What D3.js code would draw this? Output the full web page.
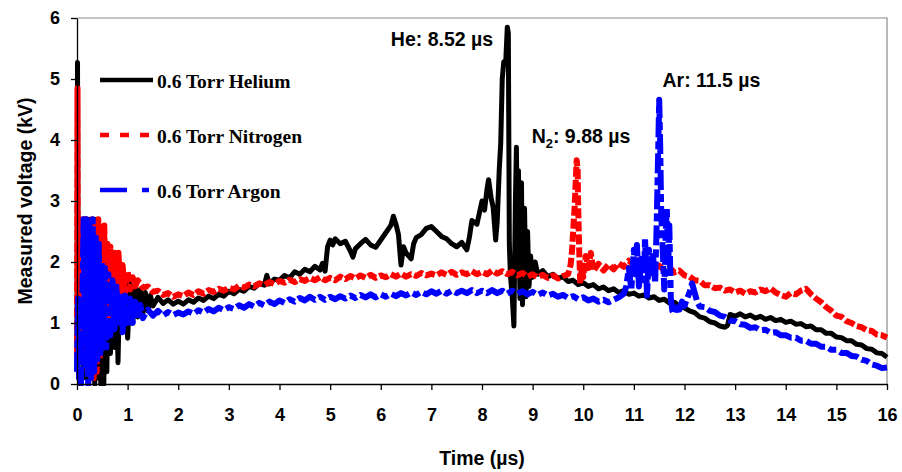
<!DOCTYPE html>
<html>
<head>
<meta charset="utf-8">
<script src="https://cdn.jsdelivr.net/npm/d3@7"></script>
<style>
  html, body { margin: 0; padding: 0; background: #fff; }
  svg { display: block; }
</style>
</head>
<body>
<svg id="chart" width="902" height="472"></svg>
<script>
// ---- DATA (time in µs, voltage in kV) ----
const helium = [[0,0.3],[0.01,5.27],[0.02,2.2],[0.04,2.7],[0.06,0.4],[0.08,2.7],[0.1,1.2],[0.12,0.2],[0.14,2.7],[0.17,0.1],[0.2,2.6],[0.23,0],[0.26,2.7],[0.29,0.2],[0.32,2.7],[0.35,0],[0.38,2.7],[0.41,0.1],[0.44,2.6],[0.47,0],[0.5,2.4],[0.53,0],[0.56,2.3],[0.59,0.2],[0.62,2.1],[0.66,0.5],[0.7,1.9],[0.74,0.6],[0.78,1.8],[0.81,0.35],[0.85,1.9],[0.9,0.9],[0.95,1.75],[1.0,0.75],[1.05,1.65],[1.1,1.0],[1.15,1.6],[1.2,1.1],[1.25,1.55],[1.3,1.15],[1.35,1.5],[1.4,1.2],[1.45,1.45],[1.5,1.28],[1.6,1.42],[1.7,1.32],[1.8,1.38],[1.9,1.31],[2.0,1.36],[2.1,1.31],[2.2,1.38],[2.3,1.34],[2.4,1.41],[2.5,1.37],[2.6,1.44],[2.7,1.4],[2.8,1.47],[2.9,1.44],[3.0,1.52],[3.1,1.48],[3.2,1.55],[3.3,1.52],[3.4,1.6],[3.5,1.57],[3.6,1.65],[3.7,1.62],[3.75,1.78],[3.8,1.64],[3.9,1.72],[4.0,1.7],[4.1,1.78],[4.2,1.74],[4.3,1.84],[4.4,1.8],[4.5,1.88],[4.6,1.84],[4.7,1.93],[4.8,1.87],[4.85,1.98],[4.9,1.85],[4.95,2.25],[5.0,2.36],[5.05,2.28],[5.1,2.38],[5.2,2.3],[5.3,2.34],[5.4,2.18],[5.45,2.08],[5.5,2.22],[5.6,2.3],[5.7,2.37],[5.8,2.28],[5.9,2.24],[6.0,2.36],[6.1,2.48],[6.2,2.6],[6.25,2.75],[6.3,2.62],[6.35,2.45],[6.4,1.95],[6.45,2.25],[6.5,2.15],[6.6,2.05],[6.65,2.3],[6.7,2.4],[6.8,2.45],[6.9,2.55],[7.0,2.58],[7.1,2.5],[7.2,2.42],[7.3,2.38],[7.4,2.3],[7.5,2.25],[7.6,2.32],[7.7,2.2],[7.75,2.4],[7.8,2.68],[7.9,2.62],[8.0,3.0],[8.05,2.85],[8.1,3.2],[8.13,3.35],[8.18,3.05],[8.22,2.9],[8.27,2.36],[8.3,2.65],[8.34,3.5],[8.37,3.95],[8.4,5.0],[8.43,5.28],[8.47,5.3],[8.5,5.85],[8.52,5.75],[8.53,4.0],[8.54,2.3],[8.56,1.8],[8.6,1.4],[8.63,0.95],[8.66,3.0],[8.68,3.88],[8.7,2.0],[8.72,3.5],[8.75,1.4],[8.78,3.3],[8.8,1.3],[8.84,2.88],[8.87,1.43],[8.9,2.5],[8.93,1.6],[8.96,2.1],[9.0,1.75],[9.05,2.0],[9.1,1.8],[9.2,1.86],[9.3,1.76],[9.4,1.8],[9.5,1.73],[9.6,1.76],[9.7,1.68],[9.8,1.7],[9.9,1.63],[10.0,1.66],[10.1,1.6],[10.2,1.63],[10.3,1.56],[10.4,1.59],[10.5,1.53],[10.6,1.56],[10.7,1.5],[10.8,1.53],[10.9,1.47],[11.0,1.49],[11.1,1.44],[11.2,1.46],[11.3,1.41],[11.4,1.43],[11.5,1.37],[11.6,1.39],[11.7,1.33],[11.8,1.34],[11.9,1.27],[12.0,1.25],[12.1,1.2],[12.2,1.17],[12.3,1.1],[12.4,1.08],[12.5,1.02],[12.6,1.0],[12.7,0.95],[12.8,0.93],[12.85,0.96],[12.9,1.14],[13.0,1.11],[13.1,1.15],[13.2,1.1],[13.3,1.13],[13.4,1.08],[13.5,1.11],[13.6,1.06],[13.7,1.09],[13.8,1.04],[13.9,1.06],[14.0,1.01],[14.1,1.03],[14.2,0.98],[14.3,0.99],[14.4,0.94],[14.5,0.95],[14.6,0.89],[14.7,0.89],[14.8,0.83],[14.9,0.83],[15.0,0.77],[15.1,0.76],[15.2,0.71],[15.3,0.71],[15.4,0.65],[15.5,0.64],[15.6,0.58],[15.7,0.57],[15.8,0.51],[15.9,0.5],[16.0,0.44]];

const nitrogen = [[0,0.45],[0.01,4.85],[0.015,1.5],[0.03,2.1],[0.05,1.2],[0.07,2.6],[0.09,0.5],[0.12,2.7],[0.15,0.9],[0.18,2.7],[0.21,0.2],[0.24,2.6],[0.27,0.3],[0.3,2.7],[0.33,0.1],[0.36,2.5],[0.39,0.2],[0.42,2.7],[0.45,0.4],[0.48,2.4],[0.51,0.6],[0.54,2.6],[0.57,0.9],[0.6,2.3],[0.63,1.1],[0.66,2.25],[0.7,1.2],[0.74,2.15],[0.78,1.3],[0.82,2.15],[0.86,1.4],[0.9,1.95],[0.95,1.5],[1.0,1.85],[1.05,1.55],[1.1,1.75],[1.15,1.6],[1.2,1.7],[1.3,1.58],[1.4,1.6],[1.5,1.51],[1.6,1.53],[1.7,1.46],[1.8,1.49],[1.9,1.43],[2.0,1.47],[2.1,1.44],[2.2,1.5],[2.3,1.46],[2.4,1.52],[2.5,1.48],[2.6,1.54],[2.7,1.51],[2.8,1.56],[2.9,1.53],[3.0,1.58],[3.1,1.55],[3.2,1.61],[3.3,1.58],[3.4,1.63],[3.5,1.6],[3.6,1.65],[3.7,1.62],[3.8,1.67],[3.9,1.64],[4.0,1.69],[4.1,1.66],[4.2,1.71],[4.3,1.67],[4.4,1.72],[4.5,1.69],[4.6,1.74],[4.7,1.7],[4.8,1.75],[4.9,1.7],[5.0,1.74],[5.1,1.7],[5.2,1.76],[5.3,1.72],[5.4,1.77],[5.5,1.73],[5.6,1.78],[5.7,1.74],[5.8,1.79],[5.9,1.74],[6.0,1.78],[6.1,1.75],[6.2,1.8],[6.3,1.76],[6.4,1.81],[6.5,1.76],[6.6,1.8],[6.7,1.77],[6.8,1.82],[6.9,1.78],[7.0,1.81],[7.1,1.78],[7.2,1.83],[7.3,1.79],[7.4,1.84],[7.5,1.79],[7.6,1.83],[7.7,1.8],[7.8,1.85],[7.9,1.8],[8.0,1.84],[8.1,1.8],[8.2,1.86],[8.3,1.81],[8.4,1.85],[8.5,1.8],[8.6,1.84],[8.7,1.78],[8.8,1.82],[8.9,1.76],[9.0,1.8],[9.1,1.75],[9.2,1.79],[9.3,1.74],[9.4,1.78],[9.5,1.73],[9.6,1.77],[9.7,1.8],[9.75,1.95],[9.78,2.2],[9.8,2.5],[9.83,2.9],[9.85,3.3],[9.87,3.67],[9.89,3.5],[9.9,2.9],[9.92,2.2],[9.94,1.65],[9.97,1.9],[10.0,1.75],[10.05,2.1],[10.1,1.9],[10.15,2.15],[10.2,1.85],[10.3,1.97],[10.4,1.86],[10.5,1.96],[10.6,1.88],[10.7,1.98],[10.8,1.92],[10.9,2.02],[11.0,1.95],[11.1,2.03],[11.2,1.94],[11.3,1.98],[11.4,1.9],[11.5,1.94],[11.6,1.86],[11.7,1.91],[11.8,1.83],[11.9,1.86],[12.0,1.78],[12.1,1.76],[12.2,1.7],[12.3,1.69],[12.4,1.62],[12.5,1.62],[12.6,1.57],[12.7,1.58],[12.8,1.53],[12.9,1.55],[13.0,1.5],[13.1,1.53],[13.2,1.48],[13.3,1.52],[13.4,1.5],[13.5,1.55],[13.6,1.52],[13.7,1.57],[13.8,1.5],[13.9,1.46],[14.0,1.43],[14.1,1.49],[14.2,1.47],[14.3,1.53],[14.4,1.56],[14.5,1.47],[14.6,1.4],[14.7,1.34],[14.8,1.26],[14.9,1.2],[15.0,1.12],[15.1,1.1],[15.2,1.03],[15.3,1.0],[15.4,0.95],[15.5,0.93],[15.6,0.88],[15.7,0.87],[15.8,0.81],[15.9,0.8],[16.0,0.76]];

const argon = [[0,0.2],[0.02,1.4],[0.04,0.1],[0.06,1.3],[0.08,0],[0.1,1.0],[0.13,2.7],[0.16,0.3],[0.19,2.7],[0.22,0],[0.25,2.6],[0.28,0.1],[0.31,2.7],[0.34,0.2],[0.37,2.4],[0.4,0.4],[0.43,2.3],[0.46,0.5],[0.49,2.0],[0.52,0.6],[0.55,1.9],[0.58,0.6],[0.62,1.8],[0.66,0.8],[0.7,1.7],[0.74,0.9],[0.78,1.6],[0.82,0.95],[0.86,1.5],[0.9,0.85],[0.95,1.45],[1.0,1.0],[1.05,1.4],[1.1,1.0],[1.15,1.35],[1.2,1.05],[1.25,1.3],[1.3,1.08],[1.4,1.22],[1.5,1.12],[1.6,1.2],[1.7,1.12],[1.8,1.18],[1.9,1.13],[2.0,1.17],[2.1,1.14],[2.2,1.19],[2.3,1.15],[2.4,1.21],[2.5,1.17],[2.6,1.23],[2.7,1.19],[2.8,1.25],[2.9,1.21],[3.0,1.26],[3.1,1.23],[3.2,1.29],[3.3,1.25],[3.4,1.31],[3.5,1.27],[3.6,1.33],[3.7,1.29],[3.8,1.35],[3.9,1.31],[4.0,1.37],[4.1,1.33],[4.2,1.39],[4.3,1.35],[4.4,1.41],[4.5,1.37],[4.6,1.43],[4.7,1.38],[4.8,1.43],[4.9,1.38],[5.0,1.43],[5.1,1.39],[5.2,1.44],[5.3,1.4],[5.4,1.45],[5.5,1.41],[5.6,1.46],[5.7,1.42],[5.8,1.47],[5.9,1.42],[6.0,1.47],[6.1,1.43],[6.2,1.48],[6.3,1.44],[6.4,1.49],[6.5,1.45],[6.6,1.5],[6.7,1.46],[6.8,1.51],[6.9,1.47],[7.0,1.52],[7.1,1.48],[7.2,1.53],[7.3,1.48],[7.4,1.53],[7.5,1.49],[7.6,1.53],[7.7,1.49],[7.8,1.54],[7.9,1.49],[8.0,1.53],[8.1,1.49],[8.2,1.54],[8.3,1.49],[8.4,1.53],[8.5,1.48],[8.6,1.53],[8.7,1.48],[8.8,1.52],[8.9,1.47],[9.0,1.51],[9.1,1.46],[9.2,1.5],[9.3,1.45],[9.4,1.48],[9.5,1.43],[9.6,1.46],[9.7,1.41],[9.8,1.44],[9.9,1.39],[10.0,1.42],[10.1,1.37],[10.2,1.4],[10.3,1.35],[10.4,1.38],[10.5,1.34],[10.6,1.38],[10.7,1.42],[10.8,1.48],[10.85,1.6],[10.9,1.9],[10.95,1.55],[11.0,2.2],[11.03,1.8],[11.06,2.28],[11.1,1.6],[11.15,2.05],[11.2,1.7],[11.22,2.4],[11.26,1.45],[11.3,2.2],[11.35,1.75],[11.38,2.1],[11.42,1.65],[11.45,2.6],[11.48,3.8],[11.5,4.66],[11.52,3.9],[11.54,2.8],[11.57,2.2],[11.6,1.55],[11.63,2.5],[11.65,2.9],[11.68,2.0],[11.7,2.6],[11.73,1.4],[11.76,1.2],[11.8,1.15],[11.85,1.3],[11.9,1.22],[11.95,1.35],[12.0,1.28],[12.05,1.4],[12.1,1.5],[12.15,1.65],[12.2,1.5],[12.25,1.35],[12.3,1.27],[12.4,1.26],[12.5,1.2],[12.6,1.18],[12.7,1.12],[12.8,1.1],[12.9,1.04],[13.0,1.03],[13.1,0.98],[13.2,0.97],[13.3,0.92],[13.4,0.93],[13.5,0.88],[13.6,0.89],[13.7,0.84],[13.8,0.85],[13.9,0.8],[14.0,0.8],[14.1,0.76],[14.2,0.76],[14.3,0.71],[14.4,0.71],[14.5,0.66],[14.6,0.66],[14.7,0.61],[14.8,0.61],[14.9,0.56],[15.0,0.56],[15.1,0.51],[15.2,0.51],[15.3,0.46],[15.4,0.45],[15.5,0.4],[15.6,0.38],[15.7,0.32],[15.8,0.3],[15.9,0.26],[16.0,0.27]];

const seriesNames = ["0.6 Torr Helium", "0.6 Torr Nitrogen", "0.6 Torr Argon"];
const xTickValues = [0,1,2,3,4,5,6,7,8,9,10,11,12,13,14,15,16];
const yTickValues = [0,1,2,3,4,5,6];
const xTitle = "Time (\u00b5s)";
const yTitle = "Measured voltage (kV)";
// peak annotations: [gas, subscript, text after, time, voltage]
const peakLabels = [
  ["He", "", ": 8.52 \u00b5s", 8.22, 5.54],
  ["N", "2", ": 9.88 \u00b5s", 10.93, 3.95],
  ["Ar", "", ": 11.5 \u00b5s", 13.5, 4.87]
];

// ---- CHART ----
const W = 902, H = 472;
const m = { top: 18, right: 15, bottom: 88, left: 77 };
const svg = d3.select("#chart");
const x = d3.scaleLinear().domain([0, 16]).range([m.left, W - m.right]);
const y = d3.scaleLinear().domain([0, 6]).range([H - m.bottom, m.top]);

const styles = [
  { color: "#000000", dash: null, width: 5 },
  { color: "#ff0000", dash: "10,3", width: 6 },
  { color: "#0000ff", dash: "20,4,8,4", width: 6 }
];
const legendDash = [null, "9,11", "27,15,7,15"];

// frame (top/right gray)
svg.append("path")
  .attr("d", `M${x(0)},${y(6)}H${x(16)}V${y(0)}`)
  .attr("fill", "none").attr("stroke", "#8c8c8c").attr("stroke-width", 1.2);

svg.append("clipPath").attr("id", "clip")
  .append("rect").attr("x", x(0) - 4).attr("y", y(6)).attr("width", x(16) - x(0) + 8).attr("height", y(0) - y(6) + 2);

const line = d3.line().x(d => x(d[0])).y(d => y(d[1]));
const g = svg.append("g").attr("clip-path", "url(#clip)");
[helium, nitrogen, argon].forEach((data, i) => {
  const p = g.append("path").datum(data)
    .attr("d", line)
    .attr("fill", "none")
    .attr("stroke", styles[i].color)
    .attr("stroke-width", styles[i].width)
    .attr("stroke-linejoin", "round");
  if (styles[i].dash) p.attr("stroke-dasharray", styles[i].dash);
});

// axes
const xAxis = svg.append("g").attr("transform", `translate(0,${y(0)})`)
  .call(d3.axisBottom(x).tickValues(xTickValues).tickSize(6).tickSizeOuter(0).tickPadding(18).tickFormat(d3.format("d")));
const yAxis = svg.append("g").attr("transform", `translate(${x(0)},0)`)
  .call(d3.axisLeft(y).tickValues(yTickValues).tickSize(6).tickSizeOuter(0).tickPadding(11).tickFormat(d3.format("d")));
[xAxis, yAxis].forEach(a => {
  a.select(".domain").attr("stroke", "#000").attr("stroke-width", 1.3);
  a.selectAll(".tick line").attr("stroke", "#000").attr("stroke-width", 1.3);
  a.selectAll(".tick text").attr("fill", "#000")
    .style("font-family", "Liberation Sans, Arial, sans-serif")
    .style("font-weight", "bold").style("font-size", "18px");
});

// axis titles
svg.append("text").attr("x", (x(0) + x(16)) / 2).attr("y", 465)
  .attr("text-anchor", "middle")
  .style("font-family", "Liberation Sans, Arial, sans-serif").style("font-weight", "bold").style("font-size", "19.5px")
  .text(xTitle);
svg.append("text").attr("transform", `translate(32,${(y(0) + y(6)) / 2}) rotate(-90)`)
  .attr("text-anchor", "middle")
  .style("font-family", "Liberation Sans, Arial, sans-serif").style("font-weight", "bold").style("font-size", "19.5px")
  .text(yTitle);

// legend
const legendY = [80, 135, 190];
seriesNames.forEach((name, i) => {
  const ln = svg.append("line").attr("x1", 100).attr("x2", 153)
    .attr("y1", legendY[i]).attr("y2", legendY[i])
    .attr("stroke", styles[i].color).attr("stroke-width", 4.5);
  if (legendDash[i]) ln.attr("stroke-dasharray", legendDash[i]);
  svg.append("text").attr("x", 157).attr("y", legendY[i] + 8)
    .style("font-family", "Liberation Serif, Times New Roman, serif").style("font-weight", "bold").style("font-size", "19.5px")
    .text(name);
});

// peak annotations
peakLabels.forEach(([gas, sub, rest, t, v]) => {
  const txt = svg.append("text").attr("x", x(t)).attr("y", y(v))
    .attr("text-anchor", "end")
    .style("font-family", "Liberation Sans, Arial, sans-serif").style("font-weight", "bold").style("font-size", "19.5px");
  txt.append("tspan").text(gas);
  if (sub) txt.append("tspan").attr("dy", 5).style("font-size", "13px").text(sub);
  txt.append("tspan").attr("dy", sub ? -5 : 0).text(rest);
});
</script>
</body>
</html>
